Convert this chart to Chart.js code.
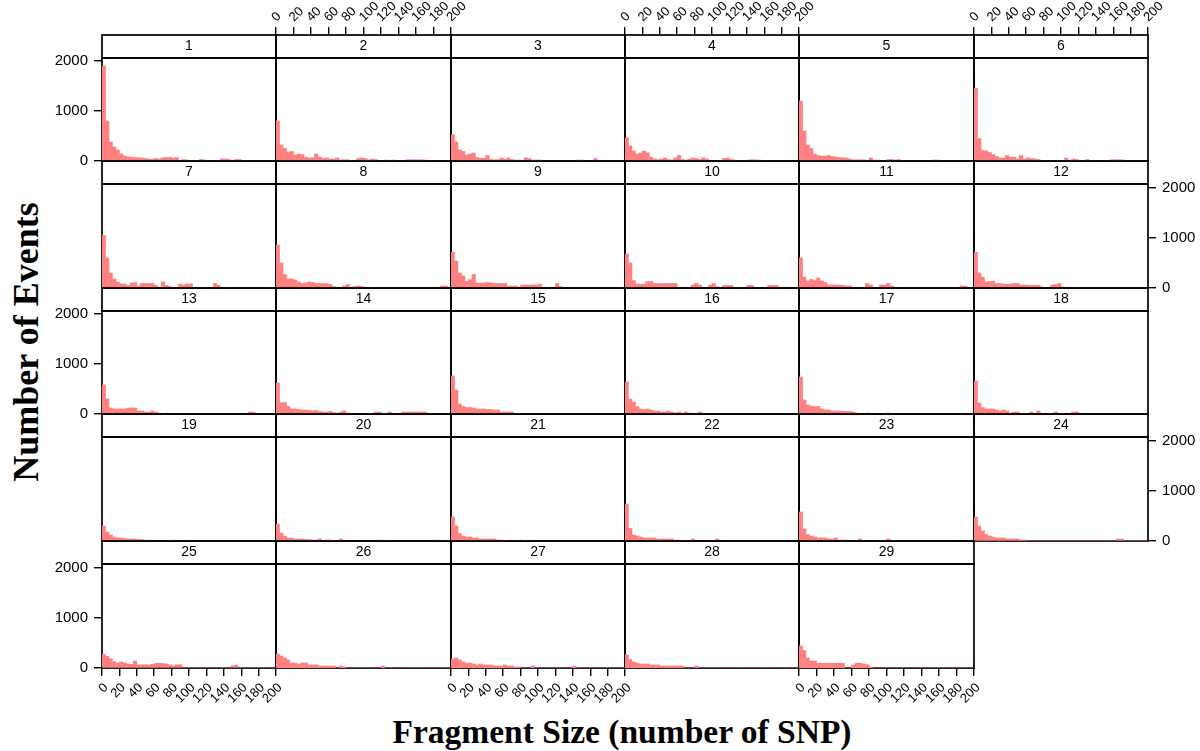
<!DOCTYPE html>
<html>
<head>
<meta charset="utf-8">
<script src="https://cdn.jsdelivr.net/npm/chart.js@4.4.0/dist/chart.umd.min.js"></script>
<style>
  html, body { margin: 0; padding: 0; background: #fff; }
  #wrap { position: relative; width: 1200px; height: 751px; overflow: hidden; }
  #wrap canvas { position: absolute; }
  .ytitle { position: absolute; left: 26px; top: 342px; transform: translate(-50%, -50%) rotate(-90deg);
            font: bold 36px "Liberation Serif", "Times New Roman", serif; white-space: nowrap; }
  .xtitle { position: absolute; left: 622px; top: 732px; transform: translate(-50%, -50%);
            font: bold 33.5px "Liberation Serif", "Times New Roman", serif; white-space: nowrap; }
</style>
</head>
<body>
<div id="wrap">
  <div class="ytitle">Number of Events</div>
  <div class="xtitle">Fragment Size (number of SNP)</div>
</div>
<script>
// bin centres (bins 4 SNP wide, 0..200)
const binCenters = [2,6,10,14,18,22,26,30,34,38,42,46,50,54,58,62,66,70,74,78,
  82,86,90,94,98,102,106,110,114,118,122,126,130,134,138,142,146,150,154,158,
  162,166,170,174,178,182,186,190,194,198];
const xTicks = [0,20,40,60,80,100,120,140,160,180,200];
const yTicks = [0,1000,2000];
const panelLabels = ['1','2','3','4','5','6','7','8','9','10','11','12','13','14','15',
  '16','17','18','19','20','21','22','23','24','25','26','27','28','29'];

// counts per bin, one array per panel
const c1 = [1900,800,380,280,220,140,100,80,80,70, 60,60,50,40,40,50,40,60,70,70, 60,70,0,30,20,0,0,0,30,20, 0,0,0,0,40,40,30,0,30,30, 0,0,0,0,0,0,0,0,0,0];
const c2 = [800,320,250,180,190,120,140,130,75,60, 65,140,80,50,60,40,40,60,25,25, 25,0,0,50,60,50,25,40,30,0, 0,20,0,20,0,0,0,25,25,25, 25,25,20,0,0,0,0,0,0,0];
const c3 = [525,380,220,190,120,140,160,70,55,55, 110,30,25,25,60,40,60,30,20,20, 0,60,50,20,20,20,0,0,0,0, 0,0,0,0,0,0,20,20,0,0, 0,50,0,0,0,0,0,0,0,0];
const c4 = [470,300,200,140,160,200,165,75,40,25, 40,60,30,20,60,115,30,20,40,60, 50,30,60,40,0,0,0,0,50,60, 30,20,0,0,0,20,25,25,20,0, 0,0,0,0,0,0,0,0,0,0];
const c5 = [1200,600,320,250,140,110,95,100,110,90, 80,70,60,60,40,25,25,25,25,0, 60,20,20,0,0,30,30,20,30,0, 0,0,0,0,0,0,0,0,20,20, 0,0,0,0,0,0,0,0,0,0];
const c6 = [1450,450,210,200,170,130,90,60,60,110, 80,75,40,110,40,60,50,40,30,0, 0,0,0,0,0,0,60,0,40,30, 0,0,30,0,0,0,0,0,0,25, 25,25,25,0,0,0,0,0,0,0];
const c7 = [1050,600,300,180,120,80,80,50,100,110, 40,90,90,90,90,50,0,120,50,30, 0,0,80,60,80,80,0,0,0,0, 0,0,90,50,0,0,0,0,0,0, 0,0,0,0,0,0,0,0,0,0];
const c8 = [860,500,270,180,180,160,120,90,100,120, 110,90,90,90,90,70,30,0,0,40, 70,0,30,40,30,0,0,0,0,0, 0,0,0,0,0,0,0,0,0,0, 0,0,0,0,0,0,0,40,40,0];
const c9 = [715,540,300,240,135,165,270,100,100,100, 110,100,90,90,90,90,40,40,40,0, 60,60,60,60,60,80,0,0,0,0, 90,30,0,0,0,0,0,0,0,0, 0,0,0,0,0,0,0,0,0,0];
const c10 = [680,500,150,80,75,75,130,130,90,90, 90,90,90,90,90,0,0,0,0,60, 90,60,0,0,60,90,30,0,50,50, 50,0,0,0,0,50,50,0,0,0, 0,50,50,50,0,0,0,0,0,0];
const c11 = [600,220,140,170,150,200,140,110,60,60, 60,60,50,40,40,0,0,0,0,90, 60,0,0,60,60,90,40,0,0,0, 0,0,0,0,0,0,0,0,0,0, 0,0,0,0,0,0,40,40,0,0];
const c12 = [715,300,220,120,130,135,90,90,80,75, 80,90,90,60,60,55,55,55,55,20, 0,0,60,70,90,20,0,0,0,0, 0,0,0,0,0,0,0,0,0,0, 0,0,0,0,0,0,0,0,0,0];
const c13 = [580,300,120,100,100,100,100,110,120,120, 60,60,40,40,60,40,20,0,20,0, 0,0,0,0,0,0,0,0,0,0, 0,0,0,0,0,0,0,0,0,0, 0,0,40,40,0,0,0,0,0,0];
const c14 = [620,220,230,150,100,100,90,80,80,70, 60,70,50,40,40,50,30,0,40,60, 20,0,0,0,0,0,0,0,40,40, 0,0,40,0,0,0,40,40,40,40, 40,40,40,0,0,0,0,0,0,0];
const c15 = [760,480,200,150,130,130,120,100,100,100, 90,90,80,80,40,40,40,40,0,0, 0,0,0,0,0,0,0,0,0,0, 0,0,0,0,0,0,0,0,0,0, 0,0,0,0,0,0,0,0,0,0];
const c16 = [640,300,240,150,100,90,100,80,60,60, 40,40,60,40,20,40,0,40,20,0, 0,40,0,0,0,0,0,0,0,0, 0,0,0,0,0,0,0,0,0,0, 0,0,0,0,0,0,0,0,0,0];
const c17 = [740,280,180,160,150,150,100,80,80,60, 60,60,50,50,50,40,20,0,0,20, 0,0,0,0,0,20,0,0,0,0, 0,0,0,0,0,0,0,0,0,0, 0,0,0,0,0,0,0,0,0,0];
const c18 = [660,220,130,100,100,100,80,60,80,60, 20,40,40,0,0,0,40,0,60,0, 0,0,0,40,0,0,0,0,40,40, 0,0,0,0,0,0,0,0,0,0, 0,0,0,0,0,0,0,0,0,0];
const c19 = [300,180,120,80,60,60,50,40,40,40, 30,30,20,20,0,0,0,0,0,0, 20,0,0,0,20,0,0,0,0,0, 0,0,0,0,0,0,0,0,0,0, 0,0,0,0,0,0,0,0,0,0];
const c20 = [340,160,100,60,60,40,40,40,30,30, 20,20,40,0,20,20,0,0,40,0, 0,0,0,0,0,0,0,0,0,20, 20,0,0,0,0,0,0,0,0,0, 0,0,0,0,0,20,20,0,0,0];
const c21 = [480,300,150,100,80,80,60,60,40,40, 40,40,40,20,20,0,0,20,0,0, 20,0,0,20,0,0,0,0,0,0, 0,0,0,0,0,0,0,0,0,0, 0,0,0,0,0,0,0,0,0,0];
const c22 = [740,250,120,100,80,60,60,60,60,40, 40,40,40,40,20,20,0,0,0,40, 0,0,0,0,0,0,40,0,0,0, 0,0,0,0,0,0,0,0,0,0, 0,0,0,0,0,0,0,0,0,0];
const c23 = [580,240,130,100,80,60,60,60,40,40, 60,20,20,20,0,0,0,40,0,0, 0,0,0,0,0,40,0,0,0,0, 0,0,0,0,0,0,0,0,0,0, 0,0,0,0,0,0,0,0,0,0];
const c24 = [480,300,200,130,100,80,60,60,60,40, 40,40,40,20,20,0,0,0,0,0, 0,0,0,0,0,0,0,0,0,0, 0,0,0,0,0,0,0,0,0,0, 0,40,40,0,0,0,0,0,0,0];
const c25 = [275,235,185,130,95,120,100,80,75,140, 60,65,65,60,75,90,95,90,80,60, 40,65,65,0,0,0,0,0,0,0, 0,0,0,0,0,0,0,40,60,0, 0,0,0,0,0,0,0,0,0,0];
const c26 = [280,240,200,160,100,100,80,100,100,60, 60,60,40,40,40,40,40,0,40,20, 0,0,0,0,0,0,0,0,0,0, 40,0,0,0,0,0,0,0,0,0, 0,0,0,0,0,0,0,0,0,0];
const c27 = [180,200,160,120,100,100,80,60,80,60, 60,60,40,40,40,60,40,40,20,20, 0,0,0,40,0,0,0,0,0,0, 0,0,0,0,0,40,0,0,0,0, 0,0,0,0,0,0,0,0,0,0];
const c28 = [260,170,120,100,80,80,80,60,60,60, 40,40,40,40,40,40,40,0,0,0, 40,0,0,0,0,0,0,0,0,0, 0,0,0,0,0,0,0,0,0,0, 0,0,0,0,0,0,0,0,0,0];
const c29 = [440,350,200,140,140,95,95,95,95,95, 95,95,95,0,0,60,95,95,80,65, 20,0,0,0,0,0,0,0,0,0, 0,0,0,0,0,0,0,0,0,0, 0,0,0,0,0,0,0,0,0,0];
const panelCounts = [c1,c2,c3,c4,c5,c6,c7,c8,c9,c10,c11,c12,c13,c14,c15,c16,c17,c18,c19,c20,
  c21,c22,c23,c24,c25,c26,c27,c28,c29];

// layout of the 6 x 5 lattice
const colX = [102, 276, 451, 625, 799, 974, 1148];
const rowY = [35, 161, 288, 414, 541, 668];
const STRIP_H = 23;
const COUNT_PER_PX = 20;
const PAD = {left: 24, right: 30, top: 6, bottom: 6};
const Y_AXIS_W = 52;
const X_AXIS_H = 40;

Chart.defaults.font.family = "'Liberation Sans', Arial, Helvetica, sans-serif";
Chart.defaults.color = '#000';

const framePlugin = {
  id: 'frame',
  beforeDatasetsDraw(chart) {
    const {ctx, chartArea: a} = chart;
    const t = chart.titleBlock;
    ctx.save();
    ctx.strokeStyle = '#000';
    ctx.lineWidth = 1.7;
    ctx.strokeRect(a.left, t.top, a.right - a.left, t.bottom - t.top);
    ctx.strokeRect(a.left, a.top, a.right - a.left, a.bottom - a.top);
    ctx.restore();
  }
};

const wrap = document.getElementById('wrap');

panelCounts.forEach((counts, i) => {
  const r = Math.floor(i / 6), c = i % 6;
  const showTop = r === 0 && c % 2 === 1;
  const showBottom = r === 4 && c % 2 === 0;
  const showLeft = c === 0 && r % 2 === 0;
  const showRight = c === 5 && r % 2 === 1;
  const pw = colX[c + 1] - colX[c];
  const ph = rowY[r + 1] - rowY[r] - STRIP_H;

  const cv = document.createElement('canvas');
  const w = PAD.left + PAD.right + pw + (showLeft ? Y_AXIS_W : 0) + (showRight ? Y_AXIS_W : 0);
  const h = PAD.top + PAD.bottom + STRIP_H + ph + (showTop ? X_AXIS_H : 0) + (showBottom ? X_AXIS_H : 0);
  cv.width = w; cv.height = h;
  cv.style.width = w + 'px'; cv.style.height = h + 'px';
  cv.style.left = (colX[c] - PAD.left - (showLeft ? Y_AXIS_W : 0)) + 'px';
  cv.style.top = (rowY[r] - PAD.top - (showTop ? X_AXIS_H : 0)) + 'px';
  wrap.appendChild(cv);

  const tickGrid = {display: true, drawOnChartArea: false, drawTicks: true, tickLength: 8,
                    color: '#000', lineWidth: 1.4, offset: false};

  new Chart(cv, {
    type: 'bar',
    data: {
      datasets: [{
        data: binCenters.map((x, k) => ({x: x, y: counts[k]})),
        backgroundColor: '#ff8080',
        borderWidth: 0,
        barPercentage: 1,
        categoryPercentage: 1,
        grouped: false
      }]
    },
    options: {
      responsive: false,
      animation: false,
      devicePixelRatio: 1,
      layout: {padding: PAD},
      plugins: {
        legend: {display: false},
        tooltip: {enabled: false},
        title: {
          display: true, text: panelLabels[i], weight: -10, fullSize: false, color: '#000',
          font: {size: 14, weight: 'normal', lineHeight: '17px'},
          padding: {top: 3, bottom: 3}
        }
      },
      scales: {
        x: {
          type: 'linear', offset: false, position: showTop ? 'top' : 'bottom', display: showTop || showBottom,
          min: 0, max: 200,
          afterBuildTicks: s => { s.ticks = xTicks.map(v => ({value: v})); },
          afterFit: s => { if (showTop || showBottom) s.height = X_AXIS_H; s.paddingLeft = 0; s.paddingRight = 0; },
          grid: tickGrid,
          border: {display: false},
          ticks: {minRotation: 45, maxRotation: 45, autoSkip: false, padding: showTop ? 2 : 4,
                  labelOffset: showTop ? 9 : 4, color: '#000',
                  font: {size: 13}, callback: v => String(v)}
        },
        y: {
          type: 'linear', position: showRight ? 'right' : 'left', display: showLeft || showRight,
          min: 0, max: ph * COUNT_PER_PX,
          afterBuildTicks: s => { s.ticks = yTicks.map(v => ({value: v})); },
          afterFit: s => { if (showLeft || showRight) s.width = Y_AXIS_W; s.paddingTop = 0; s.paddingBottom = 0; },
          grid: tickGrid,
          border: {display: false},
          ticks: {padding: 6, color: '#000', font: {size: 15}, callback: v => String(v)}
        }
      }
    },
    plugins: [framePlugin]
  });
});
</script>
</body>
</html>
